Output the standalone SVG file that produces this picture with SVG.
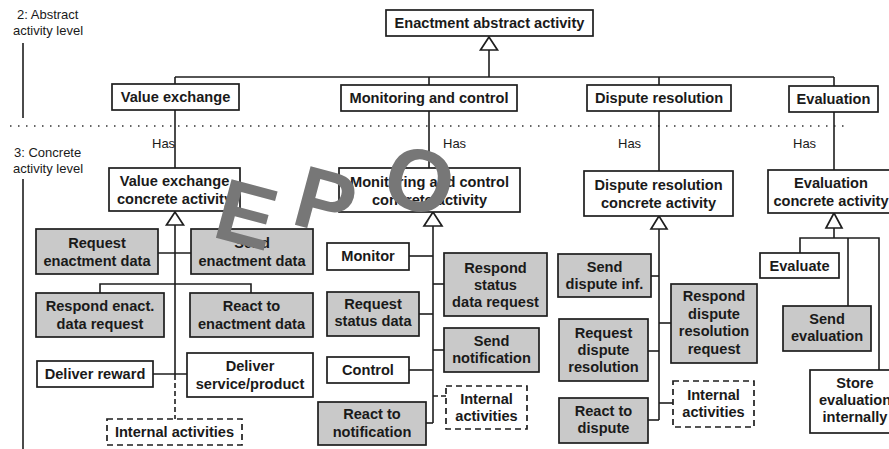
<svg xmlns="http://www.w3.org/2000/svg" width="889" height="449" viewBox="0 0 889 449">
<style>
.b{fill:#fff;stroke:#1e1e1e;stroke-width:1.7}
.g{fill:#c9c9c9;stroke:#1e1e1e;stroke-width:1.7}
.d{fill:#fff;stroke:#1e1e1e;stroke-width:1.7;stroke-dasharray:6 4}
.t{font-family:"Liberation Sans",Arial,sans-serif;font-weight:bold;font-size:14.6px;fill:#1a1a1a;text-anchor:middle}
.l{font-family:"Liberation Sans",Arial,sans-serif;font-size:13px;fill:#1a1a1a}
.c{fill:none;stroke:#1e1e1e;stroke-width:1.6}
.cd{fill:none;stroke:#1e1e1e;stroke-width:1.6;stroke-dasharray:5 3}
.tri{fill:#fff;stroke:#1e1e1e;stroke-width:1.7}
.w{font-family:"Liberation Sans",Arial,sans-serif;font-weight:bold;font-size:88px;fill:#777;text-anchor:middle}
</style>

<g id="levels">
<text class="l" x="17" y="19">2: Abstract</text>
<text class="l" x="13" y="35">activity level</text>
<line class="c" x1="23" y1="43" x2="23" y2="118"/>
<line x1="10" y1="126" x2="846" y2="126" stroke="#333" stroke-width="1.6" stroke-dasharray="1.5 6.5"/>
<text class="l" x="14" y="157">3: Concrete</text>
<text class="l" x="13" y="173">activity level</text>
<line class="c" x1="23" y1="179" x2="23" y2="449"/>
</g>

<g id="connectors">
<polygon class="tri" points="489,37 480.5,50 497.5,50"/>
<line class="c" x1="489" y1="50" x2="489" y2="77"/>
<line class="c" x1="175" y1="77" x2="834" y2="77"/>
<line class="c" x1="175" y1="77" x2="175" y2="84"/>
<line class="c" x1="429" y1="77" x2="429" y2="85"/>
<line class="c" x1="659" y1="77" x2="659" y2="85"/>
<line class="c" x1="834" y1="77" x2="834" y2="86"/>
<line class="c" x1="175" y1="110" x2="175" y2="168"/>
<line class="c" x1="429" y1="111" x2="429" y2="168"/>
<line class="c" x1="659" y1="111" x2="659" y2="171"/>
<line class="c" x1="834" y1="112" x2="834" y2="170"/>
<text class="l" x="152" y="148">Has</text>
<text class="l" x="443" y="148">Has</text>
<text class="l" x="618" y="148">Has</text>
<text class="l" x="793" y="148">Has</text>
<polygon class="tri" points="175,212 166.5,225 183.5,225"/>
<line class="c" x1="175" y1="225" x2="175" y2="375"/>
<line class="cd" x1="175" y1="375" x2="175" y2="419"/>
<line class="c" x1="158" y1="253" x2="191" y2="253"/>
<polyline class="c" points="100,293 100,284 251,284 251,293"/>
<line class="c" x1="153" y1="374" x2="187" y2="374"/>
<polygon class="tri" points="433,212 424,226 442,226"/>
<line class="c" x1="433" y1="226" x2="433" y2="423"/>
<line class="c" x1="409" y1="256" x2="433" y2="256"/>
<line class="c" x1="433" y1="284" x2="444" y2="284"/>
<line class="c" x1="419" y1="314" x2="433" y2="314"/>
<line class="c" x1="433" y1="350" x2="444" y2="350"/>
<line class="c" x1="409" y1="370" x2="433" y2="370"/>
<line class="cd" x1="433" y1="396" x2="446" y2="396"/>
<line class="c" x1="426" y1="423" x2="433" y2="423"/>
<polygon class="tri" points="659,216 651,229 667,229"/>
<line class="c" x1="659" y1="229" x2="659" y2="420"/>
<line class="c" x1="651" y1="276" x2="659" y2="276"/>
<line class="c" x1="659" y1="323" x2="671" y2="323"/>
<line class="c" x1="648" y1="351" x2="659" y2="351"/>
<line class="c" x1="659" y1="403" x2="673" y2="403"/>
<line class="c" x1="648" y1="420" x2="659" y2="420"/>
<polygon class="tri" points="834,213 826,228 842,228"/>
<line class="c" x1="834" y1="228" x2="834" y2="238"/>
<polyline class="c" points="800,253 800,238 879,238 879,370"/>
<line class="c" x1="848" y1="238" x2="848" y2="306"/>
</g>

<g id="n-enactment"><rect class="b" x="386" y="10" width="207" height="26"/><text class="t" x="489.5" y="28">Enactment abstract activity</text></g>
<g id="n-value-exchange"><rect class="b" x="112" y="84" width="127" height="26"/><text class="t" x="175.5" y="102">Value exchange</text></g>
<g id="n-monitoring"><rect class="b" x="341" y="85" width="176" height="26"/><text class="t" x="429" y="103">Monitoring and control</text></g>
<g id="n-dispute"><rect class="b" x="587" y="85" width="144" height="26"/><text class="t" x="659" y="103">Dispute resolution</text></g>
<g id="n-evaluation"><rect class="b" x="789" y="86" width="89" height="26"/><text class="t" x="833.5" y="104">Evaluation</text></g>

<g id="n-ve-concrete"><rect class="b" x="109" y="168" width="131" height="43"/><text class="t" x="174.5" y="186">Value exchange</text><text class="t" x="174.5" y="204">concrete activity</text></g>
<g id="n-mc-concrete"><rect class="b" x="339" y="168" width="181" height="44"/><text class="t" x="429.5" y="187">Monitoring and control</text><text class="t" x="429.5" y="205">concrete activity</text></g>
<g id="n-dr-concrete"><rect class="b" x="584" y="171" width="149" height="45"/><text class="t" x="658.5" y="190">Dispute resolution</text><text class="t" x="658.5" y="208">concrete activity</text></g>
<g id="n-ev-concrete"><rect class="b" x="768" y="170" width="130" height="43"/><text class="t" x="831" y="188">Evaluation</text><text class="t" x="831" y="206">concrete activity</text></g>

<g id="n-request-enactment"><rect class="g" x="36" y="229" width="122" height="45"/><text class="t" x="97" y="248">Request</text><text class="t" x="97" y="266">enactment data</text></g>
<g id="n-send-enactment"><rect class="g" x="191" y="229" width="122" height="45"/><text class="t" x="252" y="248">Send</text><text class="t" x="252" y="266">enactment data</text></g>
<g id="n-respond-enact"><rect class="g" x="36" y="293" width="128" height="44"/><text class="t" x="100" y="311">Respond enact.</text><text class="t" x="100" y="329">data request</text></g>
<g id="n-react-enactment"><rect class="g" x="190" y="293" width="123" height="44"/><text class="t" x="251.5" y="311">React to</text><text class="t" x="251.5" y="329">enactment data</text></g>
<g id="n-deliver-reward"><rect class="b" x="37" y="361" width="116" height="26"/><text class="t" x="95" y="379">Deliver reward</text></g>
<g id="n-deliver-service"><rect class="b" x="187" y="353" width="126" height="44"/><text class="t" x="250" y="371">Deliver</text><text class="t" x="250" y="389">service/product</text></g>
<g id="n-ve-internal"><rect class="d" x="107" y="419" width="135" height="26"/><text class="t" x="174.5" y="437">Internal activities</text></g>

<g id="n-monitor"><rect class="b" x="327" y="243" width="82" height="27"/><text class="t" x="368" y="261">Monitor</text></g>
<g id="n-respond-status"><rect class="g" x="444" y="253" width="103" height="63"/><text class="t" x="495.5" y="273">Respond</text><text class="t" x="495.5" y="290">status</text><text class="t" x="495.5" y="307">data request</text></g>
<g id="n-request-status"><rect class="g" x="327" y="292" width="92" height="44"/><text class="t" x="373" y="309">Request</text><text class="t" x="373" y="326">status data</text></g>
<g id="n-send-notification"><rect class="g" x="444" y="328" width="95" height="44"/><text class="t" x="491.5" y="346">Send</text><text class="t" x="491.5" y="363">notification</text></g>
<g id="n-control"><rect class="b" x="327" y="357" width="82" height="26"/><text class="t" x="368" y="375">Control</text></g>
<g id="n-mc-internal"><rect class="d" x="446" y="386" width="81" height="43"/><text class="t" x="486.5" y="404">Internal</text><text class="t" x="486.5" y="421">activities</text></g>
<g id="n-react-notification"><rect class="g" x="318" y="402" width="108" height="43"/><text class="t" x="372" y="419">React to</text><text class="t" x="372" y="437">notification</text></g>

<g id="n-send-dispute"><rect class="g" x="558" y="254" width="93" height="43"/><text class="t" x="604.5" y="272">Send</text><text class="t" x="604.5" y="289">dispute inf.</text></g>
<g id="n-respond-dispute"><rect class="g" x="671" y="284" width="86" height="79"/><text class="t" x="714" y="301">Respond</text><text class="t" x="714" y="318.5">dispute</text><text class="t" x="714" y="336">resolution</text><text class="t" x="714" y="353.5">request</text></g>
<g id="n-request-dispute"><rect class="g" x="559" y="319" width="89" height="62"/><text class="t" x="603.5" y="338">Request</text><text class="t" x="603.5" y="355">dispute</text><text class="t" x="603.5" y="372">resolution</text></g>
<g id="n-dr-internal"><rect class="d" x="673" y="381" width="81" height="46"/><text class="t" x="713.5" y="400">Internal</text><text class="t" x="713.5" y="417">activities</text></g>
<g id="n-react-dispute"><rect class="g" x="559" y="398" width="89" height="45"/><text class="t" x="603.5" y="416">React to</text><text class="t" x="603.5" y="433">dispute</text></g>

<g id="n-evaluate"><rect class="b" x="760" y="253" width="79" height="25"/><text class="t" x="799.5" y="271">Evaluate</text></g>
<g id="n-send-evaluation"><rect class="g" x="783" y="306" width="88" height="45"/><text class="t" x="827" y="324">Send</text><text class="t" x="827" y="341">evaluation</text></g>
<g id="n-store-evaluation"><rect class="b" x="810" y="370" width="90" height="63"/><text class="t" x="855" y="388">Store</text><text class="t" x="855" y="405">evaluation</text><text class="t" x="855" y="422">internally</text></g>

<g id="watermark">
<text class="w" transform="translate(247,213) rotate(15)" x="0" y="32">E</text>
<text class="w" transform="translate(326,200) rotate(15)" x="0" y="32">P</text>
<text class="w" transform="translate(420,179) rotate(15)" x="0" y="32">O</text>
</g>
</svg>
